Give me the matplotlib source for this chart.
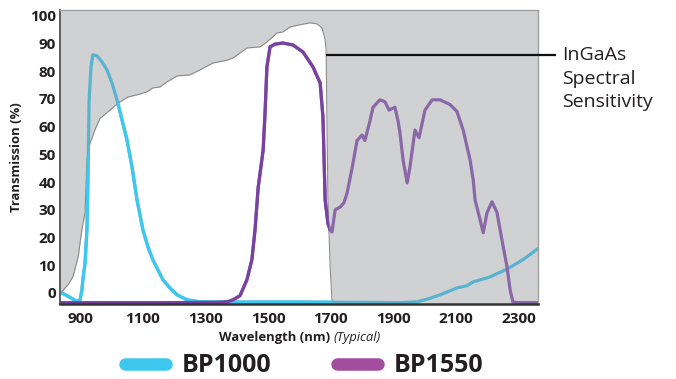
import numpy as np
import matplotlib
matplotlib.use('Agg')
import matplotlib.pyplot as plt
from matplotlib.lines import Line2D

# ---- data ----
ingaas_nm = [835, 841, 861, 877, 893, 905, 915, 921, 931, 947, 963, 995, 1020, 1052, 1091,
             1113, 1132, 1154, 1177, 1209, 1250, 1282, 1324, 1369, 1388, 1410, 1432, 1474,
             1496, 1528, 1547, 1570, 1602, 1634, 1656, 1672, 1682, 1685, 1688, 1691, 1698,
             1704, 1707]
ingaas_t = [0, 0.5, 3, 6, 13, 23, 29, 48, 54, 59, 63, 66, 68.5, 70.7, 71.8,
            72.6, 74, 74.3, 76.2, 78.3, 78.7, 80.5, 83, 84, 84.8, 86.6, 88.4, 88.8,
            90.6, 93.8, 94.2, 96, 96.8, 97.5, 97.1, 95.7, 91.3, 87.7, 60, 34, 9,
            -2.5, -4]

bp1000_nm = [835, 841, 870, 889, 899, 905, 908, 915, 921, 924, 928, 934, 940, 953, 969,
             985, 1001, 1017, 1033, 1049, 1065, 1081, 1100, 1116, 1132, 1148, 1164, 1186,
             1209, 1241, 1282, 1400, 1600, 1800, 1921, 1976, 2010, 2049, 2103, 2135, 2155,
             2199, 2209, 2263, 2314, 2362]
bp1000_t = [0.3, 0, -1.8, -3.1, -2.5, 1, 4.7, 10.8, 22.7, 40, 69.7, 81.6, 86, 85.6, 83.4,
            80.5, 75.8, 69.7, 62.5, 55.2, 45.5, 33.6, 22.7, 16.6, 11.9, 8.3, 4.7, 1.8,
            -0.7, -2.5, -3.2, -3.3, -3.3, -3.4, -3.5, -3.2, -2.2, -0.7, 1.8, 2.6, 4,
            5.4, 5.8, 8.6, 12, 16]

bp1550_nm = [835, 1000, 1200, 1340, 1370, 1388, 1410, 1432, 1448, 1458, 1468, 1484, 1490,
             1496, 1506, 1522, 1547, 1579, 1611, 1643, 1666, 1675, 1682, 1691, 1698, 1704,
             1714, 1730, 1742, 1752, 1768, 1784, 1800, 1809, 1825, 1835, 1857, 1873, 1886,
             1895, 1905, 1915, 1921, 1931, 1944, 1953, 1969, 1982, 2001, 2024, 2049, 2081,
             2103, 2123, 2145, 2155, 2161, 2177, 2187, 2199, 2215, 2231, 2247, 2263, 2273,
             2282, 2300, 2362]
bp1550_t = [-3.5, -3.5, -3.5, -3.4, -3.2, -2.5, -1, 4.7, 12, 22.7, 38, 51.6, 65,
            81.6, 88.8, 89.8, 90.2, 89.5, 87, 81.6, 75.8, 63.5, 33.5, 25, 22.7, 22,
            30, 31, 32.5, 36, 45, 55, 57, 55, 62, 67, 69.7, 69, 66,
            66.5, 67, 62, 57.8, 48, 39.7, 45.5, 58.8, 56, 66, 69.7, 69.7, 68,
            65.5, 58.8, 48, 40.8, 33.5, 26.4, 21.7, 28.9, 32.9, 29, 19, 9.4, 1,
            -3.3, -3.5, -3.5]

x_ticks = [900, 1100, 1300, 1500, 1700, 1900, 2100, 2300]
y_ticks = [0, 10, 20, 30, 40, 50, 60, 70, 80, 90, 100]
series_labels = ['BP1000', 'BP1550']
annotation_text = 'InGaAs\nSpectral\nSensitivity'

# ---- style ----
FONT = 'Open Sans'
plt.rcParams['font.family'] = [FONT, 'DejaVu Sans']
TXT = '#231f20'
CYAN = '#3ec8f0'
CYAN_MUTED = '#58b3d0'
PURPLE = '#7a42a0'
PURPLE_MUTED = '#8a68a8'
GRAY_BG = '#d0d1d3'

W, H = 676, 379
fig = plt.figure(figsize=(W / 100, H / 100), dpi=100)
ax = fig.add_axes([60 / W, 1 - 304 / H, 478 / W, (304 - 9.5) / H])
ymin, ymax = -4, 102.3
ax.set_xlim(835, 2362)
ax.set_ylim(ymin, ymax)
ax.set_facecolor(GRAY_BG)

white = ax.fill_between(ingaas_nm, ingaas_t, ymin, color='white', lw=0, zorder=1)
ax.plot(ingaas_nm, ingaas_t, color='#8c8c8c', lw=0.8, zorder=2)

lw = 2.3
ax.plot(bp1000_nm, bp1000_t, color=CYAN_MUTED, lw=lw, zorder=3, solid_joinstyle='round')
ax.plot(bp1550_nm, bp1550_t, color=PURPLE_MUTED, lw=lw, zorder=3, solid_joinstyle='round')
clip_path = white.get_paths()[0]
l1, = ax.plot(bp1000_nm, bp1000_t, color=CYAN, lw=lw, zorder=4, solid_joinstyle='round')
l2, = ax.plot(bp1550_nm, bp1550_t, color=PURPLE, lw=lw, zorder=4, solid_joinstyle='round')
l1.set_clip_path(clip_path, ax.transData)
l2.set_clip_path(clip_path, ax.transData)

ax.set_xticks(x_ticks)
ax.set_yticks(y_ticks)
ax.tick_params(length=0, labelsize=11, labelcolor=TXT)
ax.tick_params(axis='x', pad=6)
ax.tick_params(axis='y', pad=3)
for lab in ax.get_xticklabels() + ax.get_yticklabels():
    lab.set_fontweight('bold')

for side in ['top', 'right']:
    ax.spines[side].set_color('#a0a0a0')
    ax.spines[side].set_linewidth(1.0)
ax.spines['left'].set_color('#555555')
ax.spines['left'].set_linewidth(1.3)
ax.spines['bottom'].set_color('#333333')
ax.spines['bottom'].set_linewidth(1.8)
for s in ax.spines.values():
    s.set_zorder(5)

ax.set_ylabel('Transmission (%)', fontsize=9.4, fontweight='bold', color=TXT, labelpad=5)

fig.text(330 / W, 1 - 337 / H, 'Wavelength (nm)', fontsize=9.4, fontweight='bold',
         color=TXT, ha='right', va='center')
fig.text(333 / W, 1 - 337 / H, '(Typical)', fontsize=9.4, style='italic',
         color=TXT, ha='left', va='center')

# annotation leader line + text
ax.plot([1684, 1684 + (555 - 325) / 0.313], [86, 86], color='#111111', lw=1.6,
        zorder=6, clip_on=False, solid_capstyle='butt')
ax.text(1.05, 89, annotation_text, transform=ax.get_yaxis_transform(), fontsize=14,
        fontweight='normal', color=TXT, ha='left', va='top', linespacing=1.39,
        clip_on=False)

handles = [Line2D([0], [0], color=CYAN, lw=9, solid_capstyle='round'),
           Line2D([0], [0], color='#a24d9e', lw=9, solid_capstyle='round')]
leg = fig.legend(handles, series_labels, loc='center', bbox_to_anchor=(304 / W, 1 - 366 / H),
                 ncol=2, frameon=False, handlelength=1.65, handletextpad=0.6,
                 columnspacing=2.65, prop={'family': FONT, 'weight': 'bold', 'size': 18})
for t in leg.get_texts():
    t.set_color(TXT)

fig.savefig('out.png', dpi=100)
